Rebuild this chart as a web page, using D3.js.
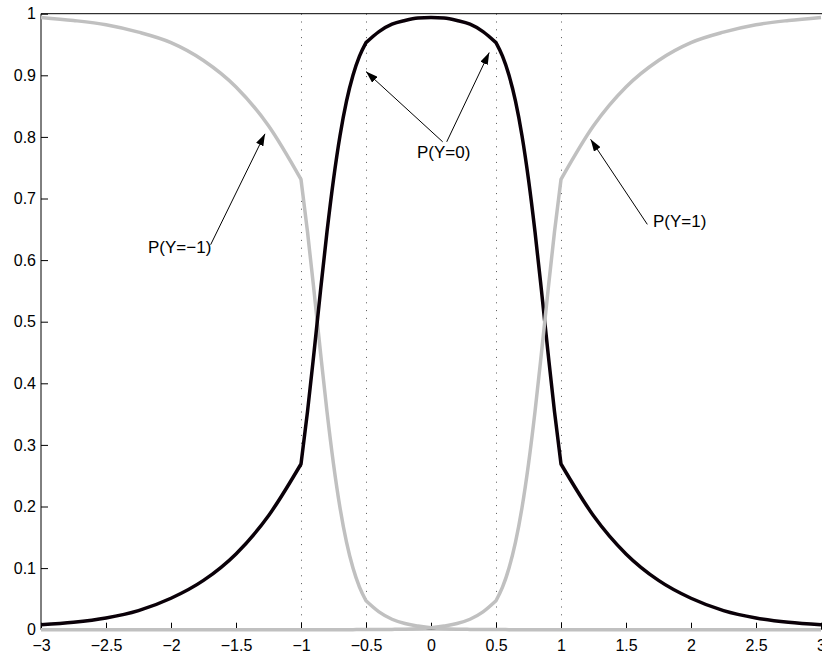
<!DOCTYPE html>
<html>
<head>
<meta charset="utf-8">
<script src="https://cdn.jsdelivr.net/npm/d3@7/dist/d3.min.js"></script>
<style>
  html, body { margin: 0; padding: 0; background: #fff; }
  svg { display: block; }
  text { font-family: "Liberation Sans", Arial, Helvetica, sans-serif; fill: #000; }
</style>
</head>
<body>
<svg id="chart" width="822" height="655"></svg>
<script>
// Sample positions along the horizontal axis
const xs = [-3, -2.75, -2.5, -2.25, -2, -1.75, -1.5, -1.25, -1,
  -0.95, -0.9, -0.85, -0.8, -0.75, -0.7, -0.65, -0.6, -0.55, -0.5,
  -0.4, -0.3, -0.2, -0.1, 0, 0.1, 0.2, 0.3, 0.4, 0.5,
  0.55, 0.6, 0.65, 0.7, 0.75, 0.8, 0.85, 0.9, 0.95, 1,
  1.25, 1.5, 1.75, 2, 2.25, 2.5, 2.75, 3];

// P(Y=-1)
const pMinus = [0.994, 0.989, 0.982, 0.970, 0.953, 0.924, 0.881, 0.818, 0.731,
  0.646, 0.550, 0.450, 0.354, 0.269, 0.198, 0.142, 0.100, 0.069, 0.047,
  0.029, 0.017, 0.010, 0.006, 0.003, 0.0015, 0.0008, 0.0005, 0.0003, 0.0002,
  0.0002, 0.0001, 0.0001, 0.0001, 0.0001, 0.0001, 0.0001, 0.0001, 0.0001, 0.0001,
  0, 0, 0, 0, 0, 0, 0, 0];

// P(Y=0)
const pZero = [0.008, 0.012, 0.019, 0.031, 0.051, 0.080, 0.123, 0.185, 0.269,
  0.354, 0.450, 0.550, 0.646, 0.731, 0.802, 0.858, 0.900, 0.931, 0.953,
  0.971, 0.983, 0.989, 0.993, 0.994, 0.993, 0.989, 0.983, 0.971, 0.953,
  0.931, 0.900, 0.858, 0.802, 0.731, 0.646, 0.550, 0.450, 0.354, 0.269,
  0.185, 0.123, 0.080, 0.051, 0.031, 0.019, 0.012, 0.008];

// P(Y=1)
const pPlus = [0, 0, 0, 0, 0, 0, 0, 0, 0.0001,
  0.0001, 0.0001, 0.0001, 0.0001, 0.0001, 0.0001, 0.0001, 0.0001, 0.0002, 0.0002,
  0.0003, 0.0005, 0.0008, 0.0015, 0.003, 0.006, 0.010, 0.017, 0.029, 0.047,
  0.069, 0.100, 0.142, 0.198, 0.269, 0.354, 0.450, 0.550, 0.646, 0.731,
  0.818, 0.881, 0.924, 0.953, 0.970, 0.982, 0.989, 0.994];

// Places where the piecewise curves change form
const breaks = [-1, -0.5, 0.5, 1];

const xTicks = [-3, -2.5, -2, -1.5, -1, -0.5, 0, 0.5, 1, 1.5, 2, 2.5, 3];
const yTicks = [0, 0.1, 0.2, 0.3, 0.4, 0.5, 0.6, 0.7, 0.8, 0.9, 1];

// Labels with arrows: text anchor point and arrow tail/tip, in data units
const labels = [
  { text: "P(Y=\u22121)", x: -2.177, y: 0.612, arrows: [ { from: [-1.695, 0.625], to: [-1.277, 0.805] } ] },
  { text: "P(Y=0)", x: -0.108, y: 0.765, arrows: [
      { from: [0.090, 0.792], to: [-0.5, 0.906] },
      { from: [0.121, 0.792], to: [0.448, 0.937] } ] },
  { text: "P(Y=1)", x: 1.708, y: 0.654, arrows: [ { from: [1.664, 0.658], to: [1.228, 0.796] } ] }
];

const svg = d3.select("#chart");
const plotLeft = 41, plotRight = 821, plotTop = 13.7, plotBottom = 629.7;

const x = d3.scaleLinear().domain([-3, 3]).range([plotLeft, plotRight]);
const y = d3.scaleLinear().domain([0, 1]).range([plotBottom, plotTop]);

const fmt = v => (v < 0 ? "\u2212" : "") + String(Math.abs(v));

// Dotted guides at the break points
svg.append("g").selectAll("line").data(breaks).join("line")
  .attr("x1", d => Math.round(x(d)) + 0.5).attr("x2", d => Math.round(x(d)) + 0.5)
  .attr("y1", y(1)).attr("y2", y(0))
  .attr("stroke", "#555").attr("stroke-width", 1)
  .attr("stroke-dasharray", "1,6.8");

// Axis frame: left, bottom and top lines
svg.append("line").attr("x1", plotLeft).attr("x2", plotLeft).attr("y1", plotTop).attr("y2", plotBottom)
  .attr("stroke", "#000").attr("stroke-width", 1);
svg.append("line").attr("x1", plotLeft).attr("x2", plotRight).attr("y1", plotBottom).attr("y2", plotBottom)
  .attr("stroke", "#000").attr("stroke-width", 1);
svg.append("line").attr("x1", plotLeft).attr("x2", 822).attr("y1", plotTop).attr("y2", plotTop)
  .attr("stroke", "#000").attr("stroke-width", 1);

// Ticks pointing inward
const xAxis = d3.axisBottom(x).tickValues(xTicks).tickSizeInner(-7).tickSizeOuter(0).tickFormat(fmt).tickPadding(10);
const gx = svg.append("g").attr("transform", `translate(0,${plotBottom})`).call(xAxis);
gx.select(".domain").remove();
gx.selectAll("text").attr("font-size", 16).attr("font-family", "Liberation Sans, Arial, sans-serif");

const yAxis = d3.axisLeft(y).tickValues(yTicks).tickSizeInner(-7).tickSizeOuter(0).tickFormat(fmt).tickPadding(5);
const gy = svg.append("g").attr("transform", `translate(${plotLeft},0)`).call(yAxis);
gy.select(".domain").remove();
gy.selectAll("text").attr("font-size", 16).attr("font-family", "Liberation Sans, Arial, sans-serif");

// Curves: smooth within each piece, sharp corners at the break points
function piecewisePath(values) {
  const pts = xs.map((xv, i) => [xv, values[i]]);
  const cuts = [-Infinity, ...breaks, Infinity];
  const line = d3.line().x(d => x(d[0])).y(d => y(d[1])).curve(d3.curveMonotoneX);
  let path = "";
  for (let k = 0; k < cuts.length - 1; k++) {
    const seg = pts.filter(p => p[0] >= cuts[k] && p[0] <= cuts[k + 1]);
    const s = line(seg);
    path += path ? "L" + s.slice(1) : s;
  }
  return path;
}

const series = [
  { values: pMinus, color: "#c0c0c0" },
  { values: pZero, color: "#0a0008" },
  { values: pPlus, color: "#c0c0c0" }
];
svg.append("g").selectAll("path").data(series).join("path")
  .attr("d", d => piecewisePath(d.values))
  .attr("fill", "none")
  .attr("stroke", d => d.color)
  .attr("stroke-width", 3.5)
  .attr("stroke-linejoin", "round");

// Arrow heads
svg.append("defs").append("marker")
  .attr("id", "head").attr("viewBox", "0 0 12 8")
  .attr("refX", 12).attr("refY", 4)
  .attr("markerWidth", 12).attr("markerHeight", 8)
  .attr("markerUnits", "userSpaceOnUse")
  .attr("orient", "auto")
  .append("path").attr("d", "M0,0 L12,4 L0,8 Z").attr("fill", "#000");

const ann = svg.append("g");
labels.forEach(l => {
  l.arrows.forEach(a => {
    ann.append("line")
      .attr("x1", x(a.from[0])).attr("y1", y(a.from[1]))
      .attr("x2", x(a.to[0])).attr("y2", y(a.to[1]))
      .attr("stroke", "#000").attr("stroke-width", 1)
      .attr("marker-end", "url(#head)");
  });
  ann.append("text")
    .attr("x", x(l.x)).attr("y", y(l.y))
    .attr("font-size", 17)
    .text(l.text);
});
</script>
</body>
</html>
